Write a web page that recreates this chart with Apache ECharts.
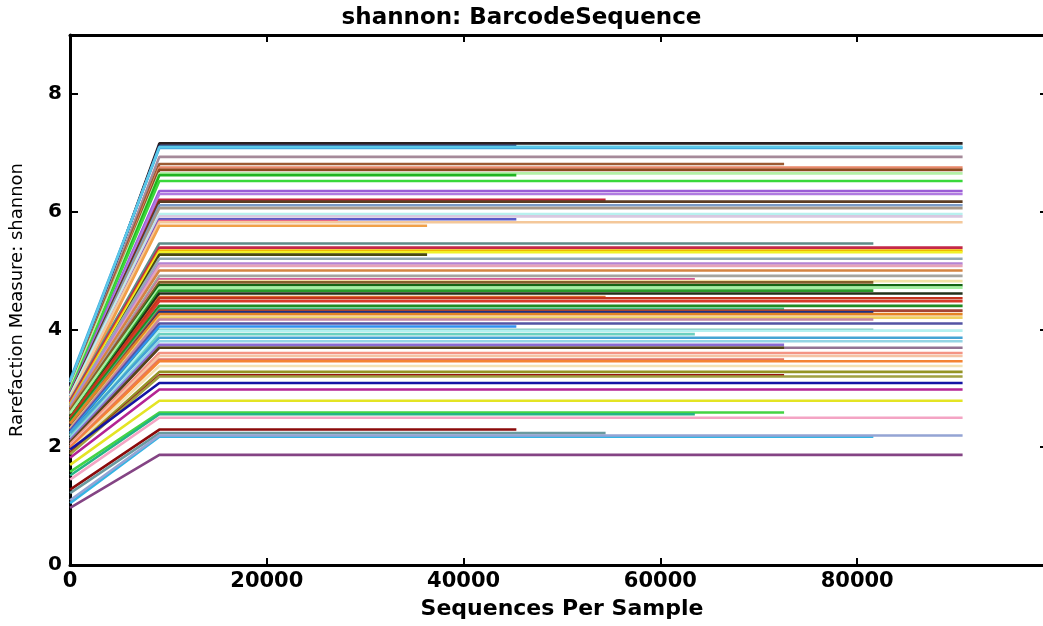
<!DOCTYPE html>
<html>
<head>
<meta charset="utf-8">
<script src="https://cdn.jsdelivr.net/npm/echarts@6/dist/echarts.min.js"></script>
<style>
html,body{margin:0;padding:0;background:#fff;}
#chart{width:1043px;height:626px;}
</style>
</head>
<body>
<div id="chart"></div>
<script>
// Rarefaction depths (sequences per sample)
const depths = [10, 9080, 18150, 27220, 36290, 45360, 54430, 63500, 72570, 81640, 90710];
// tick labels
const xTicks = [0, 20000, 40000, 60000, 80000];
const yTicks = [0, 2, 4, 6, 8];

// Shannon value at the first depth (10 seqs) for each sample
const startShannon = [
  2.98, 3.04, 3.14, 3.10, 2.98, 3.00, 2.95, 2.93, 3.00, 2.90,
  2.96, 2.92, 2.88, 2.85, 2.90, 2.86, 2.83, 2.88, 2.80, 2.78,
  2.75, 2.84, 2.72, 2.80, 2.78, 2.74, 2.70, 2.66, 2.72, 2.68,
  2.62, 2.65, 2.60, 2.58, 2.55, 2.62, 2.52, 2.58, 2.50, 2.48,
  2.45, 2.50, 2.42, 2.45, 2.40, 2.38, 2.35, 2.40, 2.32, 2.30,
  2.28, 2.25, 2.22, 2.20, 2.18, 2.24, 2.15, 2.12, 2.10, 2.08,
  2.05, 2.02, 2.00, 1.98, 1.95, 1.92, 1.90, 1.88, 1.96, 1.82,
  1.70, 1.58, 1.52, 1.45, 1.28, 1.22, 1.05, 1.10, 0.97
];
// Plateau Shannon value reached from ~9000 seqs onward
const plateauShannon = [
  7.16, 7.12, 7.08, 7.10, 6.93, 6.81, 6.75, 6.71, 6.65, 6.62,
  6.52, 6.35, 6.30, 6.20, 6.17, 6.11, 6.06, 5.96, 5.92, 5.87,
  5.84, 5.82, 5.76, 5.46, 5.39, 5.34, 5.31, 5.27, 5.20, 5.12,
  5.08, 5.00, 4.91, 4.85, 4.82, 4.80, 4.75, 4.71, 4.66, 4.61,
  4.55, 4.53, 4.48, 4.40, 4.35, 4.32, 4.29, 4.26, 4.20, 4.17,
  4.10, 4.05, 3.99, 3.98, 3.92, 3.86, 3.80, 3.74, 3.69, 3.69,
  3.60, 3.55, 3.49, 3.46, 3.38, 3.28, 3.22, 3.20, 3.09, 2.98,
  2.79, 2.59, 2.56, 2.50, 2.30, 2.24, 2.18, 2.20, 1.87
];
// Index into depths of the last rarefaction depth reached by each sample
const lastDepthIndex = [
  10, 5, 10, 10, 10, 8, 10, 10, 10, 5,
  10, 10, 10, 6, 10, 10, 10, 10, 10, 5,
  3, 10, 4, 9, 10, 10, 10, 4, 10, 10,
  10, 10, 10, 7, 10, 9, 10, 10, 9, 10,
  6, 10, 10, 10, 8, 10, 9, 10, 10, 9,
  10, 5, 9, 10, 7, 10, 10, 8, 10, 8,
  10, 10, 8, 10, 10, 10, 8, 10, 10, 10,
  10, 8, 7, 10, 5, 6, 9, 10, 10
];

const lineColors = [
  '#2a1f1f','#1c2260','#45a6dc','#5bc8e8','#a58a9a','#9c5a32','#e8886a','#8b4a1f','#b4f0a8','#1fb41f',
  '#3ad83a','#9a5cd6','#b07ae0','#c8203a','#5c3c22','#7a9ac6','#a89888','#b8f0ee','#d8c8e0','#5a5ac8',
  '#e86a8a','#f4c89a','#f0a048','#5e8a88','#c42848','#f0b800','#f2f028','#4a4a10','#94aab4','#b484d4',
  '#e6a4b8','#d48442','#a4a4a0','#d45a9a','#f2e2a4','#84602a','#146414','#a4f0a0','#2a9a2a','#22301a',
  '#e07030','#c4341e','#d83a2a','#208a24','#40c080','#a44434','#1e2e84','#e48424','#f0d060','#c484a4',
  '#5454a4','#3090f0','#1e8a74','#b4f0f0','#6ad0c0','#44a4d4','#94d4e4','#8a6ad0','#947494','#54441a',
  '#f49484','#f4c4a4','#e47464','#f48434','#f2e2b4','#949424','#941414','#a0a040','#1414a4','#b42494',
  '#e4e424','#44d444','#24b484','#f4a4c4','#8b0a0a','#6a9aa0','#34b4e4','#94a4d4','#844484'
];

const series = plateauShannon.map((p, i) => {
  const data = [[depths[0], startShannon[i]]];
  for (let k = 1; k <= lastDepthIndex[i]; k++) data.push([depths[k], p]);
  return {
    type: 'line', data, showSymbol: false, symbol: 'none', silent: true,
    lineStyle: { width: 2.6, color: lineColors[i] }, z: 2
  };
});

const FONT = 'DejaVu Sans';
const chart = echarts.init(document.getElementById('chart'), null, { renderer: 'canvas' });
chart.setOption({
  animation: false,
  backgroundColor: '#ffffff',
  title: {
    text: 'shannon: BarcodeSequence', left: 'center', top: 2,
    textStyle: { fontFamily: FONT, fontSize: 23, fontWeight: 'bold', color: '#000' }
  },
  grid: { left: 70, top: 35, width: 984, height: 530, containLabel: false, outerBoundsMode: 'none' },
  xAxis: [{
    type: 'value', min: 0, max: 100000, interval: 20000, position: 'bottom',
    name: 'Sequences Per Sample', nameLocation: 'middle', nameGap: 33,
    nameTextStyle: { fontFamily: FONT, fontSize: 22, fontWeight: 'bold', color: '#000' },
    axisLine: { show: true, onZero: false, lineStyle: { color: '#000', width: 3 } },
    axisTick: { show: true, inside: true, length: 7, lineStyle: { color: '#000', width: 2 } },
    axisLabel: { margin: 6, fontFamily: FONT, fontSize: 21, fontWeight: 'bold', color: '#000',
      formatter: v => (xTicks.indexOf(v) >= 0 ? String(v) : '') },
    splitLine: { show: false }
  }, {
    type: 'value', min: 0, max: 100000, interval: 20000, position: 'top',
    axisLine: { show: true, onZero: false, lineStyle: { color: '#000', width: 3 } },
    axisTick: { show: true, inside: true, length: 7, lineStyle: { color: '#000', width: 2 } },
    axisLabel: { show: false }, splitLine: { show: false }
  }],
  yAxis: [{
    type: 'value', min: 0, max: 9, interval: 2, position: 'left',
    name: 'Rarefaction Measure: shannon', nameLocation: 'middle', nameGap: 44, nameRotate: 90,
    nameTextStyle: { fontFamily: FONT, fontSize: 18, color: '#000' },
    axisLine: { show: true, onZero: false, lineStyle: { color: '#000', width: 3 } },
    axisTick: { show: true, inside: true, length: 8, lineStyle: { color: '#000', width: 2 } },
    axisLabel: { margin: 8, fontFamily: FONT, fontSize: 20, fontWeight: 'bold', color: '#000',
      formatter: v => (yTicks.indexOf(v) >= 0 ? String(v) : '') },
    splitLine: { show: false }
  }, {
    type: 'value', min: 0, max: 9, interval: 2, position: 'right',
    axisLine: { show: true, onZero: false, lineStyle: { color: '#000', width: 3 } },
    axisTick: { show: true, inside: true, length: 14, lineStyle: { color: '#000', width: 2 } },
    axisLabel: { show: false }, splitLine: { show: false }
  }],
  series
});
</script>
</body>
</html>
